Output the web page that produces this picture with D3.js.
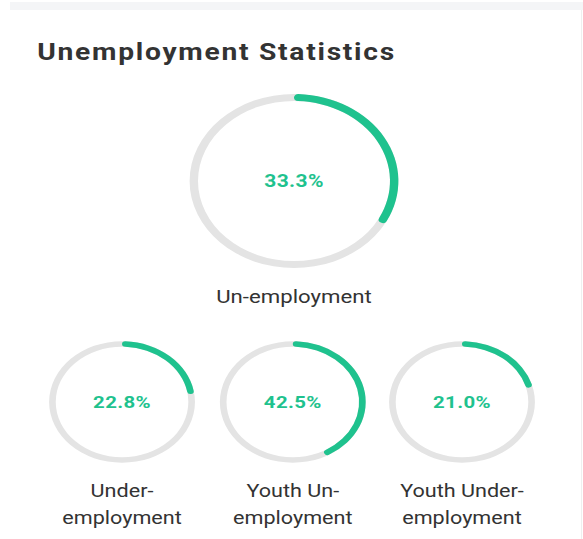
<!DOCTYPE html>
<html>
<head>
<meta charset="utf-8">
<script src="https://cdn.jsdelivr.net/npm/d3@7"></script>
<style>
  html, body { margin: 0; padding: 0; background: #ffffff; }
  svg { display: block; }
</style>
</head>
<body>
<svg id="chart" width="583" height="539"></svg>
<script>
const title = "Unemployment Statistics";
const categories = ["Un-employment", "Under-employment", "Youth Un-employment", "Youth Under-employment"];
const labelLines = [["Un-employment"], ["Under-", "employment"], ["Youth Un-", "employment"], ["Youth Under-", "employment"]];
const values = [33.3, 22.8, 42.5, 21.0];

const W = 583, H = 539, SX = 1.2;
const svg = d3.select("#chart");

// top strip and right border
svg.append("rect").attr("x", 10).attr("y", 2).attr("width", W - 10).attr("height", 8).attr("fill", "#f4f5f7");
svg.append("line").attr("x1", W - 1.5).attr("x2", W - 1.5).attr("y1", 10).attr("y2", H)
  .attr("stroke", "#efefef").attr("stroke-width", 1);

const g = svg.append("g").attr("transform", `scale(${SX},1)`);

g.append("text").attr("x", 31).attr("y", 60)
  .attr("font-family", "Roboto, 'Open Sans', sans-serif").attr("font-weight", 700)
  .attr("font-size", 23.5).attr("letter-spacing", 1.45).attr("fill", "#333333").text(title);

const angle = d3.scaleLinear().domain([0, 100]).range([0, 2 * Math.PI]);

const layout = [
  { cx: 245, cy: 181, r: 83.5, sw: 7, fs: 17.5, ly: 303, lfs: 18.5 },
  { cx: 101.7, cy: 402, r: 58, sw: 5.5, fs: 17, ly: 497, lfs: 18 },
  { cx: 244, cy: 402, r: 58, sw: 5.5, fs: 17, ly: 497, lfs: 18 },
  { cx: 385, cy: 402, r: 58, sw: 5.5, fs: 17, ly: 497, lfs: 18 }
];

values.forEach((v, i) => {
  const L = layout[i];
  const cg = g.append("g").attr("transform", `translate(${L.cx},${L.cy})`);
  const bg = d3.arc().innerRadius(L.r - L.sw / 2).outerRadius(L.r + L.sw / 2)
    .startAngle(0).endAngle(2 * Math.PI);
  cg.append("path").attr("d", bg()).attr("fill", "#e4e4e4");
  const fg = d3.arc().innerRadius(L.r - L.sw / 2).outerRadius(L.r + L.sw / 2)
    .startAngle(0).endAngle(angle(v)).cornerRadius(L.sw / 2);
  cg.append("path").attr("d", fg()).attr("fill", "#1fc28e");
  cg.append("text").attr("x", 0).attr("y", 0).attr("dy", "0.35em")
    .attr("text-anchor", "middle")
    .attr("font-family", "Roboto, Arial, sans-serif").attr("font-weight", 700)
    .attr("font-size", L.fs).attr("letter-spacing", 0.3).attr("fill", "#1fc28e")
    .text(v.toFixed(1) + "%");
  const t = g.append("text").attr("text-anchor", "middle")
    .attr("font-family", "Roboto, Arial, sans-serif")
    .attr("font-size", L.lfs).attr("fill", "#333333");
  labelLines[i].forEach((ln, j) => {
    t.append("tspan").attr("x", L.cx).attr("y", L.ly + j * 27).text(ln);
  });
});
</script>
</body>
</html>
